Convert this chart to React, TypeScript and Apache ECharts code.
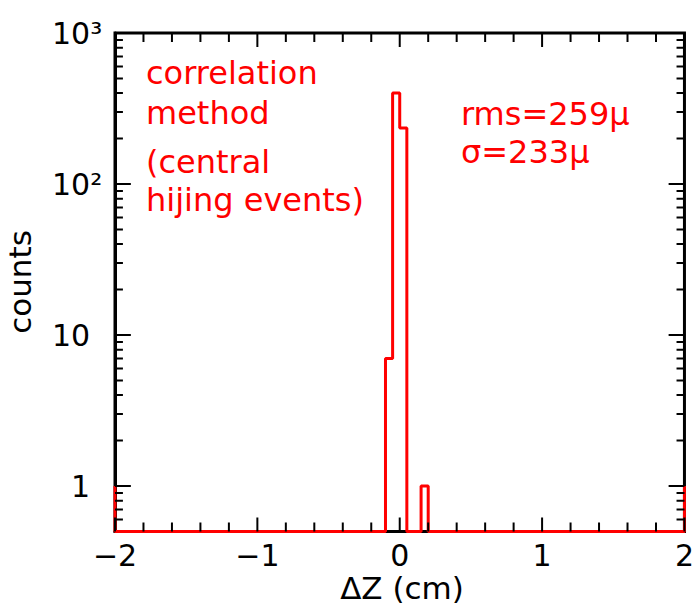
import React, { useEffect, useRef } from "react";
import * as echarts from "echarts";

const xMin = -2;
const xMax = 2;
const yMin = 0.5;
const yMax = 1000;
const xTickLabels = ["−2", "−1", "0", "1", "2"];
const xMajorTicks = [-2, -1, 0, 1, 2];
const xMinorTicks = [-1.8, -1.6, -1.4, -1.2, -0.8, -0.6, -0.4, -0.2, 0.2, 0.4, 0.6, 0.8, 1.2, 1.4, 1.6, 1.8];
const yMajorTicks = [1, 10, 100, 1000];
const yTickLabels = ["\u20071", "10", "10²", "10³"];
const yMinorTicks = [0.6, 0.7, 0.8, 0.9, 2, 3, 4, 5, 6, 7, 8, 9, 20, 30, 40, 50, 60, 70, 80, 90, 200, 300, 400, 500, 600, 700, 800, 900];
const binWidth = 0.05;
const binStarts = [-0.1, -0.05, 0, 0.05, 0.1, 0.15];
const binCounts = [7, 400, 235, 0, 0, 1];
const edgeLevel = 1;
const noteLeft = ["correlation", "method", "(central", "hijing events)"];
const noteRight = ["rms=259μ", "σ=233μ"];

const FONT = "DejaVu Sans";
const W = 697;
const H = 612;
const GRID = { left: 115, right: 7, top: 33, bottom: 80.5 };
const pxPerDecade = (H - GRID.top - GRID.bottom) / (Math.log10(yMax) - Math.log10(yMin));
const pxPerUnit = (W - GRID.left - GRID.right) / (xMax - xMin);

function outline(): number[][] {
  const pts: number[][] = [[xMin, edgeLevel], [xMin, yMin], [binStarts[0], yMin]];
  binStarts.forEach((lo, i) => {
    const c = Math.max(binCounts[i], yMin);
    pts.push([lo, c], [lo + binWidth, c]);
  });
  const lastHi = binStarts[binStarts.length - 1] + binWidth;
  pts.push([lastHi, yMin], [xMax, yMin], [xMax, edgeLevel]);
  return pts;
}

function tickSegments(): any[] {
  const out: any[] = [];
  const brk = ["-", "-"];
  const xTicks = (vals: number[], len: number) => {
    const f = Math.pow(10, len / pxPerDecade);
    vals.forEach((v) => {
      out.push([v, yMin], [v, yMin * f], brk);
      out.push([v, yMax], [v, yMax / f], brk);
    });
  };
  const yTicks = (vals: number[], len: number) => {
    const d = len / pxPerUnit;
    vals.forEach((v) => {
      out.push([xMin, v], [xMin + d, v], brk);
      out.push([xMax, v], [xMax - d, v], brk);
    });
  };
  xTicks(xMajorTicks, 14);
  xTicks(xMinorTicks, 9);
  yTicks(yMajorTicks, 16);
  yTicks(yMinorTicks, 8);
  return out;
}

export default function App() {
  const ref = useRef<HTMLDivElement>(null);
  useEffect(() => {
    if (!ref.current) return;
    const chart = echarts.init(ref.current, null, { renderer: "svg" });
    const yLabel = (v: number) => {
      const i = yMajorTicks.findIndex((t) => Math.abs(Math.log10(v) - Math.log10(t)) < 1e-6);
      return i >= 0 ? yTickLabels[i] : "";
    };
    const textStyle = (color: string, size: number) => ({ fill: color, fontSize: size, fontFamily: FONT });
    const graphics: any[] = [];
    const leftY = [73, 113, 162, 200];
    noteLeft.forEach((t, i) => {
      graphics.push({ type: "text", x: 146, y: leftY[i], style: { ...textStyle("#ff0000", 32), text: t, align: "left", verticalAlign: "middle" } });
    });
    const rightY = [114, 152];
    noteRight.forEach((t, i) => {
      graphics.push({ type: "text", x: 461, y: rightY[i], style: { ...textStyle("#ff0000", 32), text: t, align: "left", verticalAlign: "middle" } });
    });
    graphics.push({ type: "text", x: 20, y: 282, rotation: Math.PI / 2, style: { ...textStyle("#000", 31), text: "counts", align: "center", verticalAlign: "middle" } });
    graphics.push({ type: "text", x: 402, y: 588, style: { ...textStyle("#000", 31), text: "ΔZ (cm)", align: "center", verticalAlign: "middle" } });

    chart.setOption({
      animation: false,
      grid: { ...GRID, show: true, borderColor: "#000", borderWidth: 3, backgroundColor: "transparent" },
      xAxis: {
        type: "value",
        min: xMin,
        max: xMax,
        interval: 1,
        splitLine: { show: false },
        axisLine: { onZero: false, lineStyle: { color: "#000", width: 3 } },
        axisTick: { show: false },
        axisLabel: {
          margin: 9,
          fontSize: 30,
          fontFamily: FONT,
          color: "#000",
          formatter: (v: number) => xTickLabels[Math.round(v - xMin)] ?? "",
        },
      },
      yAxis: {
        type: "log",
        min: yMin,
        max: yMax,
        splitLine: { show: false },
        axisLine: { show: true, onZero: false, lineStyle: { color: "#000", width: 3 } },
        axisTick: { show: false },
        axisLabel: { margin: 63, align: "left", fontSize: 30, fontFamily: FONT, color: "#000", formatter: yLabel },
      },
      graphic: graphics,
      series: [
        {
          type: "line",
          data: tickSegments(),
          symbol: "none",
          connectNulls: false,
          silent: true,
          lineStyle: { color: "#000", width: 2 },
          z: 4,
        },
        {
          type: "line",
          data: outline(),
          symbol: "none",
          lineStyle: { color: "#ff0000", width: 3 },
          z: 3,
        },
      ],
    });
    return () => chart.dispose();
  }, []);
  return <div ref={ref} style={{ position: "absolute", left: 0, top: 0, width: W, height: H }} />;
}
